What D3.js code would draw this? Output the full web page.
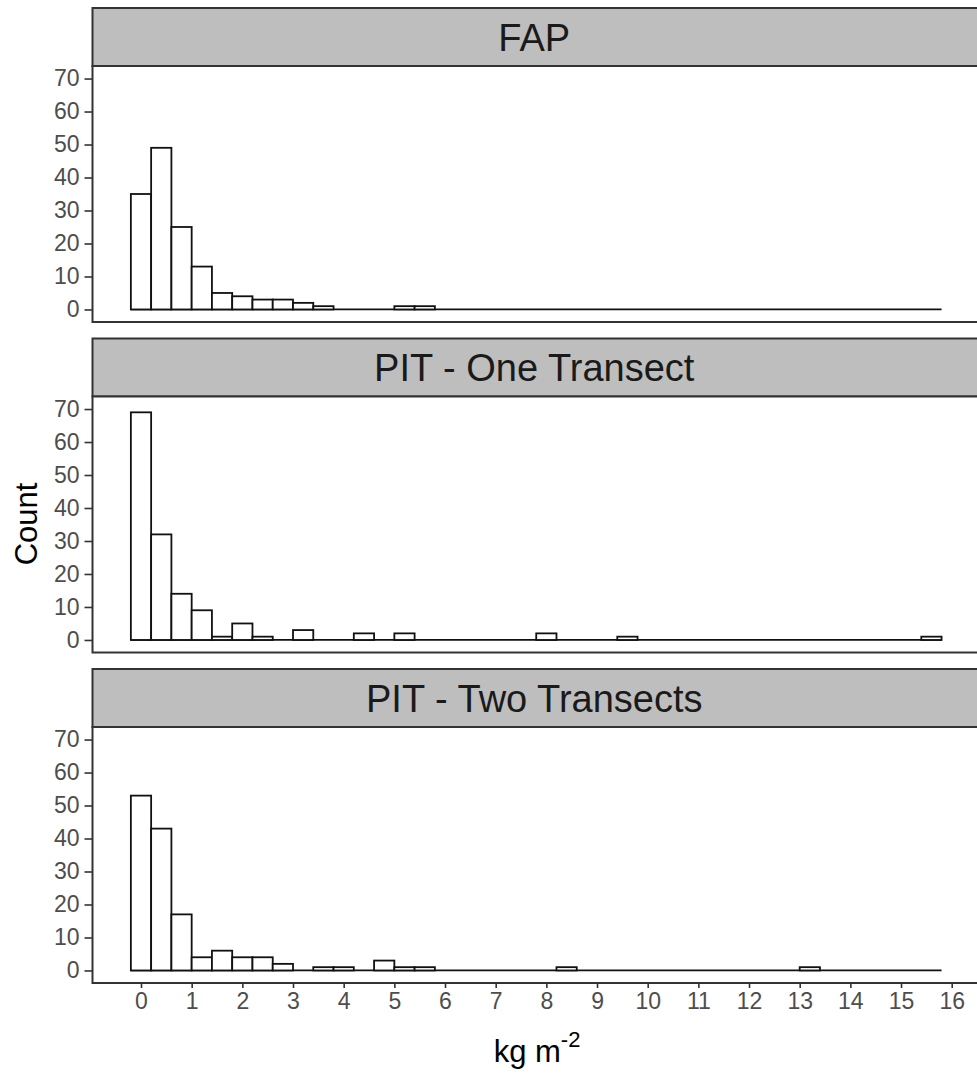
<!DOCTYPE html>
<html>
<head>
<meta charset="utf-8">
<script src="https://cdn.jsdelivr.net/npm/d3@7"></script>
<style>
  body { margin: 0; background: #fff; }
  text { font-family: "Liberation Sans", Arial, sans-serif; }
</style>
</head>
<body>
<div id="plot"></div>
<script>
// facet names
var panels = ["FAP", "PIT - One Transect", "PIT - Two Transects"]

// histogram bin edges (kg m-2)
var binEdges = [
  -0.2, 0.2, 0.6, 1.0, 1.4, 1.8, 2.2, 2.6, 3.0, 3.4,
  3.8, 4.2, 4.6, 5.0, 5.4, 5.8, 6.2, 6.6, 7.0, 7.4,
  7.8, 8.2, 8.6, 9.0, 9.4, 9.8, 10.2, 10.6, 11.0, 11.4,
  11.8, 12.2, 12.6, 13.0, 13.4, 13.8, 14.2, 14.6, 15.0, 15.4,
  15.8
]

// counts per bin, one array per facet
var countsFAP = [
  35, 49, 25, 13, 5, 4, 3, 3, 2, 1,
  0, 0, 0, 1, 1, 0, 0, 0, 0, 0,
  0, 0, 0, 0, 0, 0, 0, 0, 0, 0,
  0, 0, 0, 0, 0, 0, 0, 0, 0, 0
]
var countsPITOne = [
  69, 32, 14, 9, 1, 5, 1, 0, 3, 0,
  0, 2, 0, 2, 0, 0, 0, 0, 0, 0,
  2, 0, 0, 0, 1, 0, 0, 0, 0, 0,
  0, 0, 0, 0, 0, 0, 0, 0, 0, 1
]
var countsPITTwo = [
  53, 43, 17, 4, 6, 4, 4, 2, 0, 1,
  1, 0, 3, 1, 1, 0, 0, 0, 0, 0,
  0, 1, 0, 0, 0, 0, 0, 0, 0, 0,
  0, 0, 0, 1, 0, 0, 0, 0, 0, 0
]
var allCounts = [countsFAP, countsPITOne, countsPITTwo]

var xTicks = [0, 1, 2, 3, 4, 5, 6, 7, 8, 9, 10, 11, 12, 13, 14, 15, 16]
var yTicks = [0, 10, 20, 30, 40, 50, 60, 70]

var W = 977, H = 1078
var panelLeft = 92.5, panelRight = 982
var stripH = 58, panelH = 256, gap = 16.5, top0 = 8

var svg = d3.select("#plot")
  .append("svg")
    .attr("width", W)
    .attr("height", H)

var xScale = d3.scaleLinear()
  .domain([0, 16])
  .range([141, 951.7])

panels.forEach(function(name, p) {
  var stripTop = top0 + p * (stripH + panelH + gap)
  var pTop = stripTop + stripH
  var pBottom = pTop + panelH

  var yScale = d3.scaleLinear()
    .domain([-3.8, 73.8])
    .range([pBottom, pTop])

  // strip
  svg.append("rect")
    .attr("x", panelLeft)
    .attr("y", stripTop)
    .attr("width", panelRight - panelLeft)
    .attr("height", stripH)
    .attr("fill", "#bebebe")
    .attr("stroke", "#333")
    .attr("stroke-width", 2)

  svg.append("text")
    .attr("x", (panelLeft + panelRight) / 2 - 3)
    .attr("y", stripTop + stripH / 2)
    .attr("dy", "0.36em")
    .attr("text-anchor", "middle")
    .attr("font-size", 38)
    .attr("fill", "#1a1a1a")
    .text(name)

  // panel background
  svg.append("rect")
    .attr("x", panelLeft)
    .attr("y", pTop)
    .attr("width", panelRight - panelLeft)
    .attr("height", panelH)
    .attr("fill", "#fff")

  var counts = allCounts[p]

  // empty bins still show as a flat line along zero
  svg.append("line")
    .attr("x1", xScale(binEdges[0]))
    .attr("x2", xScale(binEdges[binEdges.length - 1]))
    .attr("y1", yScale(0))
    .attr("y2", yScale(0))
    .attr("stroke", "#111")
    .attr("stroke-width", 1.8)

  // bars (zero-height ones draw nothing)
  svg.append("g")
    .selectAll("rect")
    .data(counts)
    .enter()
    .append("rect")
      .attr("x", (d, i) => xScale(binEdges[i]))
      .attr("width", (d, i) => xScale(binEdges[i + 1]) - xScale(binEdges[i]))
      .attr("y", d => yScale(d))
      .attr("height", d => yScale(0) - yScale(d))
      .attr("fill", "#fff")
      .attr("stroke", "#111")
      .attr("stroke-width", 1.8)

  // panel border
  svg.append("rect")
    .attr("x", panelLeft)
    .attr("y", pTop)
    .attr("width", panelRight - panelLeft)
    .attr("height", panelH)
    .attr("fill", "none")
    .attr("stroke", "#333")
    .attr("stroke-width", 2)

  // y axis
  var yAxis = svg.append("g")
    .attr("transform", "translate(" + panelLeft + ",0)")
    .call(d3.axisLeft(yScale).tickValues(yTicks).tickSize(8).tickPadding(5))
  yAxis.select(".domain").remove()
  yAxis.selectAll(".tick line").attr("stroke", "#333").attr("stroke-width", 1.6)
  yAxis.selectAll(".tick text")
    .attr("font-size", 23)
    .attr("fill", "#4d4d4d")
    .attr("font-family", "Liberation Sans, Arial, sans-serif")

  // x axis on bottom panel only
  if (p === panels.length - 1) {
    var xAxis = svg.append("g")
      .attr("transform", "translate(0," + pBottom + ")")
      .call(d3.axisBottom(xScale).tickValues(xTicks).tickSize(5).tickPadding(5))
    xAxis.select(".domain").remove()
    xAxis.selectAll(".tick line").attr("stroke", "#333").attr("stroke-width", 1.6)
    xAxis.selectAll(".tick text")
      .attr("font-size", 23)
      .attr("fill", "#4d4d4d")
      .attr("font-family", "Liberation Sans, Arial, sans-serif")
  }
})

// axis titles
var xTitle = svg.append("text")
  .attr("x", 537)
  .attr("y", 1062)
  .attr("text-anchor", "middle")
  .attr("font-size", 31)
  .attr("fill", "#000")
xTitle.append("tspan").text("kg m")
xTitle.append("tspan")
  .attr("dy", -15)
  .attr("font-size", 22)
  .text("-2")

svg.append("text")
  .attr("transform", "translate(37,524) rotate(-90)")
  .attr("text-anchor", "middle")
  .attr("font-size", 31)
  .attr("fill", "#000")
  .text("Count")
</script>
</body>
</html>
